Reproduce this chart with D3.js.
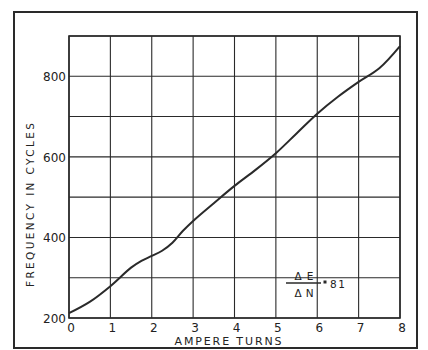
<!DOCTYPE html>
<html>
<head>
<meta charset="utf-8">
<script src="https://cdn.jsdelivr.net/npm/d3@7"></script>
<style>
  html, body { margin: 0; padding: 0; background: #fff; }
  svg { display: block; }
  text { font-family: "DejaVu Sans", sans-serif; fill: #222; }
</style>
</head>
<body>
<svg id="chart" width="428" height="350"></svg>
<script>
// ---- data ----
const ampereTurns = [0, 0.5, 1, 1.5, 1.75, 2, 2.25, 2.5, 2.75, 3, 3.5, 4, 4.5, 5, 5.5, 6, 6.5, 7, 7.5, 8];
const frequency   = [212, 240, 279, 325, 342, 354, 367, 387, 416, 441, 485, 528, 567, 609, 658, 707, 749, 786, 820, 875];
const xTicks = [0, 1, 2, 3, 4, 5, 6, 7, 8];
const yGrid = [200, 300, 400, 500, 600, 700, 800, 900];
const yTickLabels = [200, 400, 600, 800];
const xTitle = "AMPERE TURNS";
const yTitle = "FREQUENCY IN CYCLES";
const ratioNum = "ΔE", ratioDen = "ΔN", ratioVal = "81";

// ---- layout ----
const svg = d3.select("#chart");
const x = d3.scaleLinear().domain([0, 8]).range([69, 400]);
const y = d3.scaleLinear().domain([200, 900]).range([318, 36]);
const ink = "#2a2a2a";

// outer frame
svg.append("rect").attr("x", 14).attr("y", 12).attr("width", 403).attr("height", 336)
  .attr("fill", "none").attr("stroke", ink).attr("stroke-width", 2);

// grid
const g = svg.append("g");
g.selectAll("line.vx").data(xTicks).join("line")
  .attr("x1", d => x(d)).attr("x2", d => x(d))
  .attr("y1", y(900)).attr("y2", y(200))
  .attr("stroke", ink).attr("stroke-width", 1.1);
g.selectAll("line.hy").data(yGrid).join("line")
  .attr("x1", x(0)).attr("x2", x(8))
  .attr("y1", d => y(d)).attr("y2", d => y(d))
  .attr("stroke", ink).attr("stroke-width", 1.1);
// plot border
g.append("rect").attr("x", x(0)).attr("y", y(900))
  .attr("width", x(8) - x(0)).attr("height", y(200) - y(900))
  .attr("fill", "none").attr("stroke", ink).attr("stroke-width", 1.6);

// tick labels
svg.selectAll("text.xt").data(xTicks).join("text")
  .attr("x", d => x(d) + 2).attr("y", 332)
  .attr("text-anchor", "middle").attr("font-size", 12)
  .text(d => d);
svg.selectAll("text.yt").data(yTickLabels).join("text")
  .attr("x", 66).attr("y", d => y(d) + 5)
  .attr("text-anchor", "end").attr("font-size", 12)
  .text(d => d);

// axis titles
svg.append("text").attr("x", 228).attr("y", 345)
  .attr("text-anchor", "middle").attr("font-size", 11)
  .attr("textLength", 107).attr("lengthAdjust", "spacing")
  .text(xTitle);
svg.append("text").attr("transform", "translate(34,205) rotate(-90)")
  .attr("text-anchor", "middle").attr("font-size", 10.5)
  .attr("textLength", 164).attr("lengthAdjust", "spacing")
  .text(yTitle);

// curve
const line = d3.line().x(d => x(d)).y((d, i) => y(frequency[i]))
  .curve(d3.curveCatmullRom.alpha(0.5));
svg.append("path").attr("d", line(ampereTurns))
  .attr("fill", "none").attr("stroke", ink).attr("stroke-width", 2);

// ratio annotation
const ann = svg.append("g");
ann.append("text").attr("x", 304).attr("y", 280).attr("text-anchor", "middle")
  .attr("font-size", 10.5).attr("textLength", 19).attr("lengthAdjust", "spacing").text(ratioNum);
ann.append("line").attr("x1", 286).attr("x2", 321).attr("y1", 283).attr("y2", 283)
  .attr("stroke", ink).attr("stroke-width", 1.3);
ann.append("text").attr("x", 304).attr("y", 297).attr("text-anchor", "middle")
  .attr("font-size", 10.5).attr("textLength", 19).attr("lengthAdjust", "spacing").text(ratioDen);
ann.append("rect").attr("x", 323.5).attr("y", 280.5).attr("width", 3).attr("height", 3).attr("fill", ink);
ann.append("text").attr("x", 330).attr("y", 288).attr("font-size", 10.5)
  .attr("textLength", 15).attr("lengthAdjust", "spacing").text(ratioVal);
</script>
</body>
</html>
